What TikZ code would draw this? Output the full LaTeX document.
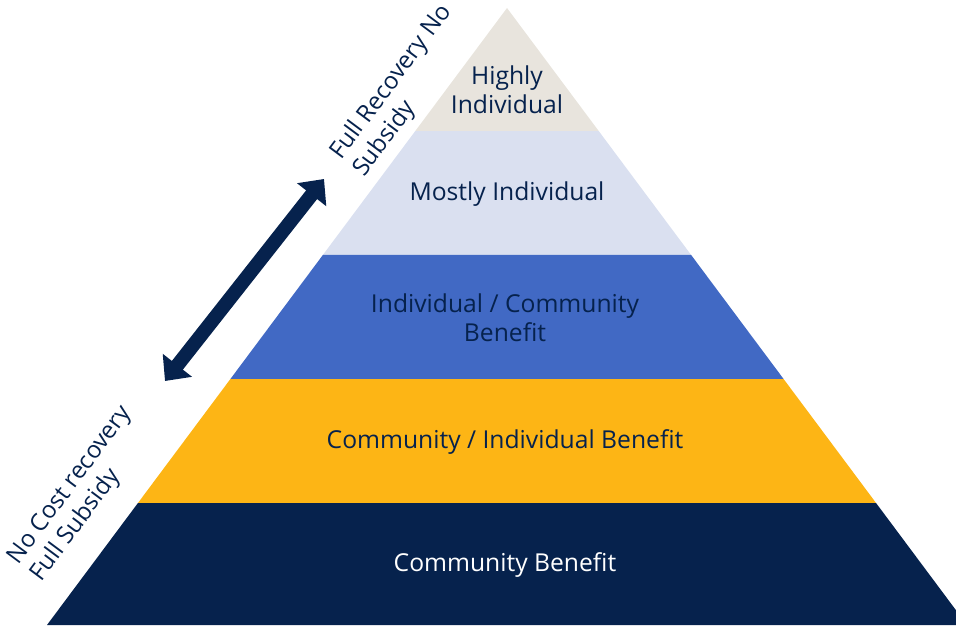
\documentclass[tikz,border=0pt]{standalone}
\usepackage{fontspec}
\setmainfont{Open Sans}
\usetikzlibrary{calc, arrows.meta, positioning}
\definecolor{navy}{HTML}{06224D}
\definecolor{sand}{HTML}{E8E4DD}
\definecolor{pale}{HTML}{DAE0F0}
\definecolor{midblue}{HTML}{4169C4}
\definecolor{gold}{HTML}{FDB515}
\tikzset{
  layer/.style={align=center, text=navy, font=\fontsize{18.5}{22}\selectfont},
  side/.style={align=left, text=navy, rotate=53.3, font=\fontsize{18}{21.5}\selectfont},
}

\begin{document}
\begin{tikzpicture}[x=0.75pt,y=-0.75pt]
\useasboundingbox (0,0) rectangle (956,625);
\coordinate (apex) at (507,8);
\coordinate (bl) at (47,625);
\coordinate (br) at (967,625);
\begin{scope}
\clip (0,0) rectangle (956,625);
\foreach \ta/\tb/\col in {0/0.1994/sand, 0.1994/0.4003/pale, 0.4003/0.6013/midblue, 0.6013/0.8023/gold, 0.8023/1/navy}
  \fill[\col] ($(apex)!\ta!(bl)$) -- ($(apex)!\tb!(bl)$) -- ($(apex)!\tb!(br)$) -- ($(apex)!\ta!(br)$) -- cycle;
\end{scope}
\node[layer] (top) at (507,90) {Highly\\Individual};
\node[layer] (mostly) at (507,194) {Mostly Individual};
\node[layer] (indcom) at (505,318) {Individual / Community\\Benefit};
\node[layer] (comind) at (505,442) {Community / Individual Benefit};
\node[layer, text=white] (com) at (505,565) {Community Benefit};
\node[side] (full) at (403,91) {Full Recovery No\\Subsidy};
\node[side] (none) at (82,494) {No Cost recovery\\Full Subsidy};
\coordinate (lo) at (165,381);
\coordinate (hi) at (324,179);
\draw[navy, line width=10.5pt, {Triangle[length=15pt,width=27pt]}-{Triangle[length=15pt,width=27pt]}] (lo) -- (hi);
\end{tikzpicture}
\end{document}
